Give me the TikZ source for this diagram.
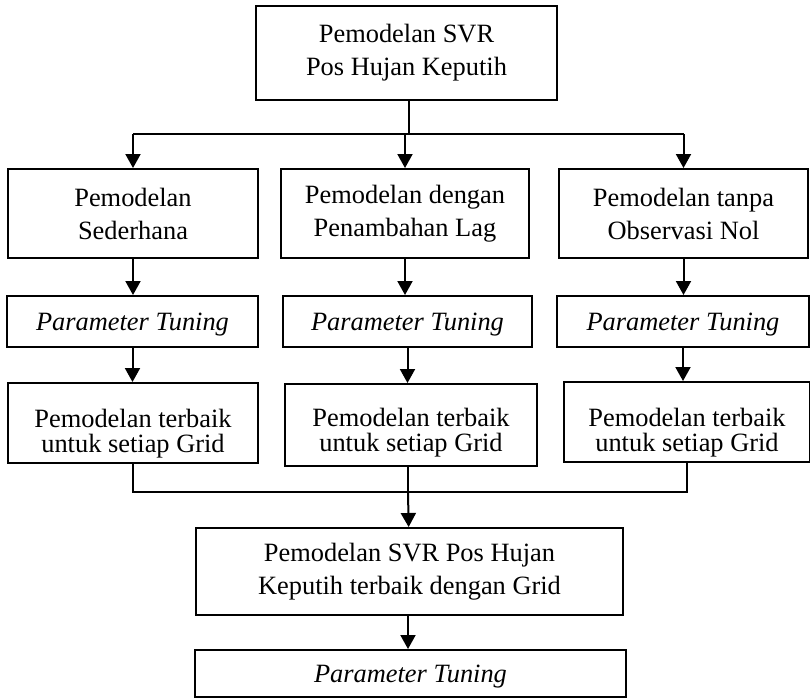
\documentclass[tikz,border=0pt]{standalone}
\usepackage{fontspec}
\setmainfont{Liberation Serif}
\usetikzlibrary{arrows.meta}

\begin{document}
\begin{tikzpicture}[x=0.5pt, y=-0.5pt,
    kotak/.style={draw, line width=1pt, align=center, inner sep=2pt,
        font=\fontsize{13.2}{16.5}\selectfont},
    tuning/.style={kotak, text depth=0pt, font=\fontsize{13.2}{16.5}\itshape},
    rapat/.style={kotak, font=\fontsize{13.2}{12.5}\selectfont},
    panah/.style={line width=1pt, -{Triangle[length=7pt,width=7.5pt]}},
    garis/.style={line width=1pt}]
    \useasboundingbox (0,0) rectangle (810,698);
    % Model awal
    \node[kotak, minimum width=150.5pt, minimum height=47pt] (svr) at (406.5,53) {Pemodelan SVR\\Pos Hujan Keputih};
    % Tiga skenario pemodelan
    \node[kotak, minimum width=125pt, minimum height=44.5pt] (sederhana) at (133,213.5) {Pemodelan\\Sederhana};
    \node[kotak, minimum width=124pt, minimum height=44.5pt] (lag) at (405,213.5) {Pemodelan dengan\\Penambahan Lag};
    \node[kotak, minimum width=124.5pt, minimum height=44.5pt] (nol) at (683.5,213.5) {Pemodelan tanpa\\Observasi Nol};
    % Tuning tiap skenario
    \node[tuning, minimum width=125.5pt, minimum height=25.5pt] (tuningA) at (132.5,321.5) {Parameter Tuning};
    \node[tuning, minimum width=124.5pt, minimum height=25.5pt] (tuningB) at (407.5,321.5) {Parameter Tuning};
    \node[tuning, minimum width=126pt, minimum height=25.5pt] (tuningC) at (683,321.5) {Parameter Tuning};
    % Model terbaik tiap skenario (teks agak turun)
    \node[rapat, minimum width=125pt, minimum height=40pt] (terbaikA) at (133,423) {\rule{0pt}{19.4pt}Pemodelan terbaik\\untuk setiap Grid};
    \node[rapat, minimum width=126pt, minimum height=41pt] (terbaikB) at (411,425) {\rule{0pt}{17pt}Pemodelan terbaik\\untuk setiap Grid};
    \node[rapat, minimum width=123pt, minimum height=40pt] (terbaikC) at (687,422) {\rule{0pt}{19.4pt}Pemodelan terbaik\\untuk setiap Grid};
    % Model akhir
    \node[kotak, minimum width=213.5pt, minimum height=43.5pt] (akhir) at (409.5,571.5) {Pemodelan SVR Pos Hujan\\Keputih terbaik dengan Grid};
    \node[tuning, minimum width=215.5pt, minimum height=23.5pt] (tuningD) at (410.5,673.5) {Parameter Tuning};

    % Percabangan
    \coordinate (cabang) at (409,134);
    \draw[garis] (svr.south -| cabang) -- (cabang);
    \draw[garis] (cabang -| sederhana) -- (cabang -| nol);
    \draw[panah] (cabang -| sederhana) -- (sederhana);
    \draw[panah] (cabang -| lag) -- (lag);
    \draw[panah] (cabang -| nol) -- (nol);
    % Alur tiap kolom
    \draw[panah] (sederhana) -- (sederhana |- tuningA.north);
    \draw[panah] (lag) -- (lag |- tuningB.north);
    \draw[panah] (nol) -- (nol |- tuningC.north);
    \draw[panah] (tuningA) -- (tuningA |- terbaikA.north);
    \draw[panah] (tuningB) -- (tuningB |- terbaikB.north);
    \draw[panah] (tuningC) -- (tuningC |- terbaikC.north);
    % Penggabungan
    \coordinate (gabung) at (408,492);
    \draw[garis] (terbaikA) -- (terbaikA |- gabung) -- (terbaikC |- gabung) -- (terbaikC);
    \draw[garis] (terbaikB.south -| gabung) -- (gabung);
    \draw[panah] (gabung) -- (akhir);
    \draw[panah] (akhir.south -| gabung) -- (gabung |- tuningD.north);
\end{tikzpicture}
\end{document}
